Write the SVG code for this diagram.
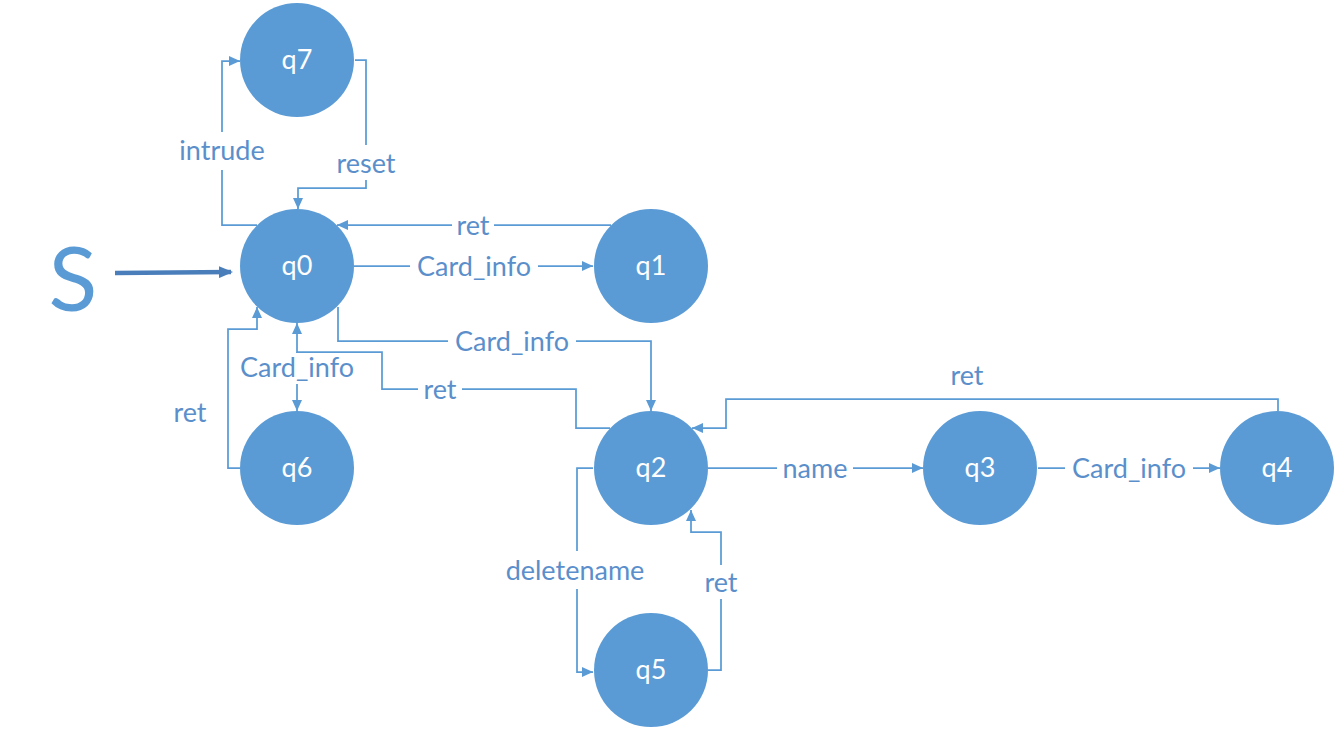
<svg xmlns="http://www.w3.org/2000/svg" width="1342" height="738" viewBox="0 0 1342 738">
<style>
.node circle{fill:#5B9BD5;}
.node text{fill:#fff;font-family:Lato,"Liberation Sans",sans-serif;font-size:27px;text-anchor:middle;}
.edge{fill:none;stroke:#5B9BD5;stroke-width:1.75;}
.lbl{fill:#5B8FCB;font-family:Lato,"Liberation Sans",sans-serif;font-size:27px;text-anchor:middle;}
.bg{fill:#fff;}
</style>
<defs>
<marker id="ah" markerUnits="userSpaceOnUse" markerWidth="11" markerHeight="10" refX="11" refY="5" orient="auto">
<path d="M0,0 L11,5 L0,10 z" fill="#5B9BD5"/>
</marker>
<marker id="ahs" markerUnits="userSpaceOnUse" markerWidth="14" markerHeight="12" refX="12" refY="6" orient="auto">
<path d="M0,0 L14,6 L0,12 z" fill="#4A7EBB"/>
</marker>
</defs>
<rect width="1342" height="738" fill="#fff"/>
<text x="73" y="311" font-family="Lato,'Liberation Sans',sans-serif" font-size="90" fill="#5B9BD5" text-anchor="middle">S</text>
<line x1="115" y1="273" x2="231" y2="272" stroke="#4A7EBB" stroke-width="4.5" marker-end="url(#ahs)"/>
<g id="connectors">
<path class="edge" d="M257,225 H222 V61 H240" marker-end="url(#ah)"/>
<path class="edge" d="M355,60 H366 V188 H298 V209" marker-end="url(#ah)"/>
<path class="edge" d="M611,225 H337" marker-end="url(#ah)"/>
<path class="edge" d="M354,266 H593" marker-end="url(#ah)"/>
<path class="edge" d="M338,307 V341 H651 V411" marker-end="url(#ah)"/>
<path class="edge" d="M610,428 H576 V389 H382 V352 H297 V323" marker-end="url(#ah)"/>
<path class="edge" d="M297,352 V411" marker-end="url(#ah)"/>
<path class="edge" d="M240,468 H228 V329 H257 V307" marker-end="url(#ah)"/>
<path class="edge" d="M1278,411 V399 H726 V428 H692" marker-end="url(#ah)"/>
<path class="edge" d="M708,468 H923" marker-end="url(#ah)"/>
<path class="edge" d="M1038,468 H1220" marker-end="url(#ah)"/>
<path class="edge" d="M593,468 H577 V672 H593" marker-end="url(#ah)"/>
<path class="edge" d="M708,670 H721 V532 H691 V510" marker-end="url(#ah)"/>
<rect class="bg" x="212" y="132" width="20" height="38"/>
<text class="lbl" x="222" y="160">intrude</text>
<rect class="bg" x="356" y="145" width="20" height="35"/>
<text class="lbl" x="366" y="173">reset</text>
<rect class="bg" x="452" y="214" width="42" height="22"/>
<text class="lbl" x="473" y="235">ret</text>
<rect class="bg" x="410" y="255" width="128" height="22"/>
<text class="lbl" x="474" y="276">Card_info</text>
<rect class="bg" x="448" y="330" width="128" height="22"/>
<text class="lbl" x="512" y="351">Card_info</text>
<rect class="bg" x="418" y="378" width="44" height="22"/>
<text class="lbl" x="440" y="399">ret</text>
<rect class="bg" x="287" y="353" width="20" height="31"/>
<text class="lbl" x="297" y="377">Card_info</text>
<text class="lbl" x="190" y="422">ret</text>
<text class="lbl" x="967" y="385">ret</text>
<rect class="bg" x="777" y="457" width="76" height="22"/>
<text class="lbl" x="815" y="478">name</text>
<rect class="bg" x="1065" y="457" width="128" height="22"/>
<text class="lbl" x="1129" y="478">Card_info</text>
<rect class="bg" x="567" y="551" width="20" height="38"/>
<text class="lbl" x="575" y="580">deletename</text>
<rect class="bg" x="711" y="565" width="20" height="34"/>
<text class="lbl" x="721" y="592">ret</text>
</g>
<g id="q7" class="node"><circle cx="297" cy="60" r="57"/><text x="297" y="69">q7</text></g>
<g id="q0" class="node"><circle cx="297" cy="266" r="57"/><text x="297" y="275">q0</text></g>
<g id="q1" class="node"><circle cx="651" cy="266" r="57"/><text x="651" y="275">q1</text></g>
<g id="q6" class="node"><circle cx="297" cy="468" r="57"/><text x="297" y="477">q6</text></g>
<g id="q2" class="node"><circle cx="651" cy="468" r="57"/><text x="651" y="477">q2</text></g>
<g id="q3" class="node"><circle cx="980" cy="468" r="57"/><text x="980" y="477">q3</text></g>
<g id="q4" class="node"><circle cx="1277" cy="468" r="57"/><text x="1277" y="477">q4</text></g>
<g id="q5" class="node"><circle cx="651" cy="670" r="57"/><text x="651" y="679">q5</text></g>
</svg>
